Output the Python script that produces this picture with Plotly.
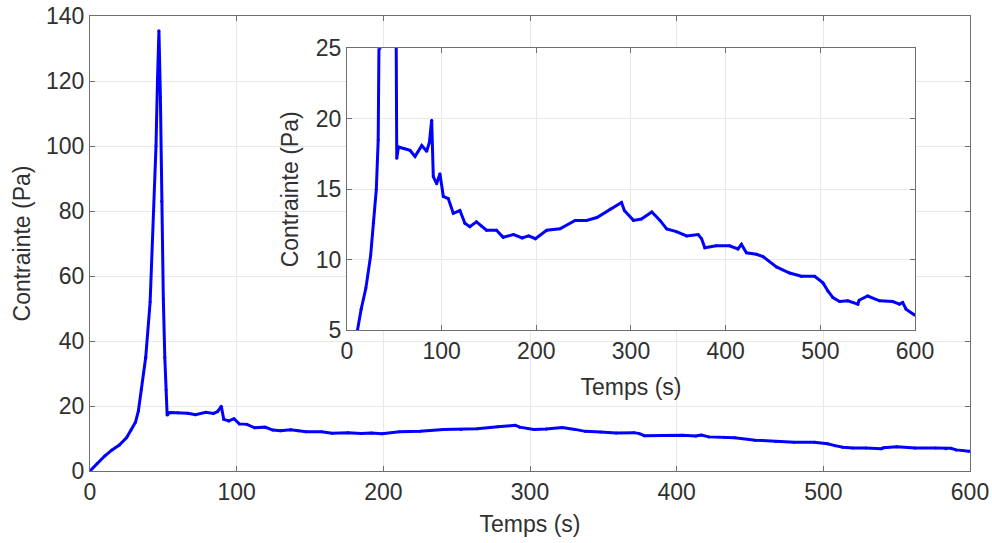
import plotly.graph_objects as go

# temps (s) / contrainte (Pa)
temps = [0, 5, 10, 15, 20, 25, 28, 31, 33, 35, 38, 41, 43.5, 45, 46, 47, 48, 48.9,
         50, 51, 51.9, 52.6, 54.4, 60, 66.7, 71.9, 79, 84.2, 87, 89.5, 91.2, 94.7,
         98.2, 101.8, 107, 112.3, 119.3, 124.6, 129.8, 136.8, 142, 147.4, 157.9,
         165, 176, 185, 192, 199, 211, 225, 241, 253, 264, 278, 290, 293, 302.6,
         311, 322, 330.7, 337.7, 348, 358.8, 371, 374.6, 378, 390, 404, 413, 416.7,
         422, 432.5, 439.5, 453.6, 467.6, 480, 494, 502.8, 508, 513.3, 520.3, 529,
         539.6, 541, 550, 562.5, 576.5, 583.6, 587, 590.6, 599.4]
contrainte = [0, 2.4, 4.6, 6.5, 8.0, 10.3, 12.6, 15.0, 18.5, 25, 35, 52, 80, 100, 120,
              135.5, 115, 83, 53, 35, 25, 17.2, 18.0, 17.9, 17.76, 17.34, 18.1, 17.7,
              18.3, 19.9, 15.9, 15.4, 16.1, 14.5, 14.35, 13.3, 13.5, 12.6, 12.35,
              12.7, 12.4, 12.1, 12.1, 11.6, 11.8, 11.56, 11.7, 11.5, 12.1, 12.2, 12.8,
              12.8, 13.0, 13.6, 14.07, 13.5, 12.8, 12.9, 13.4, 12.8, 12.2, 12.0, 11.7,
              11.8, 11.5, 10.86, 11.0, 11.0, 10.77, 11.1, 10.5, 10.4, 10.23, 9.5,
              9.07, 8.84, 8.84, 8.37, 7.8, 7.33, 7.05, 7.1, 6.86, 7.14, 7.44, 7.1,
              7.05, 6.86, 6.98, 6.5, 6.1]

FONT = "Liberation Sans, Arial, sans-serif"
BLUE = "#0000ff"
AX = "#6e6e6e"
GRID = "#e8e8e8"
FS = 23

fig = go.Figure()

for xa, ya in (("x", "y"), ("x2", "y2")):
    fig.add_trace(go.Scatter(x=temps, y=contrainte, xaxis=xa, yaxis=ya,
                             mode="lines+markers",
                             line=dict(color=BLUE, width=3),
                             marker=dict(color=BLUE, size=3),
                             showlegend=False))

axis_style = dict(showline=True, linecolor=AX, linewidth=1, mirror="ticks",
                  ticks="inside", ticklen=5, tickcolor=AX, automargin=False,
                  ticklabeloverflow="allow",
                  showgrid=True, gridcolor=GRID, gridwidth=1, zeroline=False,
                  tickfont=dict(size=FS, color="#303030", family=FONT))

fig.update_layout(
    width=992, height=543,
    margin=dict(l=90, r=22, t=16, b=72),
    paper_bgcolor="white", plot_bgcolor="white",
    font=dict(family=FONT, color="#303030"),
    xaxis=dict(range=[0, 600], dtick=100, domain=[0, 1],
               title=dict(text="Temps (s)", font=dict(size=FS), standoff=12),
               **axis_style),
    yaxis=dict(range=[0, 140], dtick=20, domain=[0, 1],
               title=dict(text="Contrainte (Pa)", font=dict(size=FS), standoff=8),
               **axis_style),
    xaxis2=dict(range=[0, 600], dtick=100, domain=[0.292, 0.9375], anchor="y2",
                title=dict(text="Temps (s)", font=dict(size=FS), standoff=15),
                **axis_style),
    yaxis2=dict(range=[5, 25], dtick=5, domain=[0.309, 0.929], anchor="x2",
                title=dict(text="Contrainte (Pa)", font=dict(size=FS), standoff=10),
                **axis_style),
)

# pas de marge autour du graphique dans la page
fig.write_html("out.html", config={"displayModeBar": False},
               post_script="document.body.style.margin='0';")
